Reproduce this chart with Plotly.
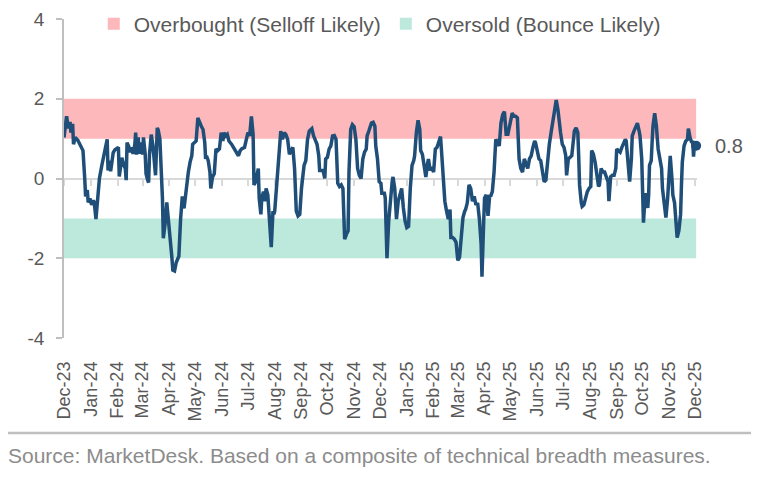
import pandas as pd
import plotly.graph_objects as go

# ---------------- data ----------------
START = "2023-12-01"

# days elapsed since START for each observation
DAY = [
    0, 3, 5, 7, 8, 10, 11, 13, 16, 19, 22, 24, 25, 27, 28, 30, 32, 34, 35, 37,
    39, 41, 44, 46, 48, 50, 51, 53, 54, 57, 59, 61, 63, 64, 66, 67, 69, 71, 72, 73,
    75, 76, 78, 80, 82, 83, 84, 86, 87, 89, 91, 92, 94, 95, 97, 98, 99, 101, 103, 105,
    106, 108, 109, 111, 112, 113, 114, 115, 117, 119, 121, 123, 125, 126, 128, 130, 133, 135, 137, 139,
    141, 143,
    144, 146, 148, 149, 151, 153, 155, 157, 159, 161, 163, 164, 165, 167, 169, 170, 172, 174, 176, 178,
    180, 182, 184, 185, 187, 189, 191, 194, 196, 199, 202, 204, 206, 209, 211, 213, 215, 217, 219, 220,
    222, 225, 226, 228, 229, 231, 233, 234, 236, 238, 239, 240, 242,
    243, 244, 246, 248, 250, 251, 253, 255, 257, 259, 261, 263, 265, 267, 269, 271, 273, 275, 277, 278,
    280, 282, 284, 287, 289, 291, 293, 295, 296, 299, 300, 302, 303, 305, 307, 309, 311, 313, 315, 317,
    319, 321, 323, 324, 325, 327, 329, 330, 332, 334, 336, 338, 340, 342, 344, 346, 348, 350, 351, 353,
    356, 358,
    360, 361, 363, 365, 367, 368, 371, 372, 374, 376, 378, 380, 381, 383, 385, 387, 389, 391, 393, 395,
    397, 399, 401, 403, 405, 406, 408, 410, 412, 413, 415, 417, 419, 421, 422, 424, 426, 428, 430, 432,
    434, 436, 437, 439, 441, 443, 445, 447, 448, 450, 452, 454, 456, 458, 460, 462, 464, 465, 467, 469,
    471, 473, 475, 477, 479, 481, 483, 484,
    486, 487, 489, 491, 493, 494, 496, 498, 500, 502, 504, 506, 508, 510, 512, 514, 516, 518, 519, 521,
    523, 525, 527, 529, 531, 533, 535, 537, 539, 541, 543, 545, 546, 548, 550, 552, 554, 556, 558, 560,
    562, 564, 566, 568, 570, 572, 574, 575, 577, 579, 581, 582, 584, 586, 588, 589, 591, 593, 595, 596,
    597, 599, 600,
    602, 604, 606, 608, 610, 611, 613, 615, 617, 619, 620, 621, 622, 624, 626, 628, 630, 631, 633, 635,
    637, 639, 640, 642, 644, 646, 648, 650, 651, 653, 654, 655, 657, 658, 660, 662, 664, 666, 667, 669,
    670, 671, 673, 675, 676, 677, 678, 680, 681, 682, 684, 686, 688, 690, 692, 693, 695, 697, 699, 701,
    702, 704, 705, 707, 708, 710, 712, 714, 715, 716, 718, 720, 722, 723, 725, 727, 728, 729, 730, 732,
]

# composite technical breadth score
SCORE = [
    1.03, 1.56, 1.26, 1.42, 1.15, 1.37, 0.86, 1.03, 0.96, 0.82, 0.70, 0.0, -0.45, -0.29, -0.6, -0.5, -0.66, -0.55, -0.6, -1.02,
    -0.37, 0.0, 0.35, 0.55, 0.7, 0.98, 0.2, 0.45, 0.18, 0.65, 0.72, 0.76, 0.78, 0.05, 0.45, 0.52, 0.35, 0.25, -0.04, 0.9,
    0.8, 0.66, 0.78, 0.62, 0.85, 1.15, 0.6, 1.03, 0.62, 0.9, 0.6, 1.03, 0.62, 0.12, -0.05, -0.1, 0.6, 1.1, 0.82, 0.2,
    0.08, 1.27, 1.22, 1.0, 0.6, 0.1, -0.5, -1.5, -1.15, -0.6, -1.0, -1.6, -2.0, -2.3, -2.32, -2.1, -1.95, -1.02, -0.45, -0.75,
    -0.3, 0.0,
    0.16, 0.41, 0.57, 0.86, 0.9, 0.94, 1.52, 1.39, 1.31, 1.23, 0.9, 0.49, 0.57, 0.45, 0.16, -0.25, 0.04, 0.12, 0.74, 0.7,
    0.74, 1.15, 0.94, 1.15, 1.07, 1.11, 0.94, 0.86, 0.78, 0.66, 0.57, 0.7, 0.75, 0.78, 0.98, 1.15, 1.07, 1.56, 1.1, -0.16,
    -0.08, 0.25, -0.49, -0.9, -0.49, -0.33, -0.57, -0.25, -0.41, -1.07, -1.39, -1.72, -0.82,
    -0.9, -0.82, -0.25, 0.57, 0.9, 1.19, 0.98, 1.15, 1.1, 0.98, 0.61, 0.7, 0.78, 0.25, -0.82, -0.94, -0.9, -0.25, 0.16, 0.33,
    0.45, 0.98, 1.19, 1.25, 1.07, 0.94, 0.86, 0.57, 0.2, 0.2, 0.2, 0.0, 0.49, 0.53, 0.74, 0.82, 1.07, 1.08, 0.98, -0.12,
    -0.2, -0.16, -0.25, -0.9, -1.52, -1.4, -1.31, 0.16, 1.23, 1.35, 1.3, 0.98, 0.25, 0.08, 0.0, 0.49, 0.66, 0.74, 1.07, 1.19,
    1.39, 1.41,
    1.31, 0.82, 0.49, -0.08, -0.12, -0.37, -0.37, -0.49, -2.0, -1.07, -0.49, -0.08, 0.04, -0.25, -1.02, -0.57, -0.41, -0.25, -0.74, -1.07,
    -1.23, -1.2, -0.25, 0.33, 0.45, 0.57, 1.15, 1.46, 1.23, 0.7, 0.61, 0.37, 0.04, 0.37, 0.49, 0.2, 0.29, 0.16, 0.74, 0.78,
    0.9, 1.05, 0.74, 0.0, -0.57, -0.82, -1.02, -0.78, -1.48, -1.48, -1.52, -1.6, -2.05, -1.98, -1.48, -0.98, -0.82, -0.78, -0.61, -0.16,
    -0.25, -0.57, -0.45, -0.66, -0.61, -1.02, -1.64, -2.46,
    -1.07, -0.49, -0.41, -0.94, -0.41, -0.45, -0.33, 0.16, 0.98, 0.9, 0.82, 1.39, 1.6, 1.68, 1.11, 1.11, 1.31, 1.56, 1.64, 1.56,
    1.56, 1.52, 0.49, 0.25, 0.16, 0.49, 0.33, 0.25, 0.49, 0.57, 0.78, 0.94, 0.9, 0.7, 0.49, 0.45, 0.16, -0.08, -0.04, 0.45,
    0.86, 1.15, 1.43, 1.72, 1.97, 1.72, 1.23, 1.15, 0.86, 0.78, 0.57, 0.08, 0.49, 0.53, 0.57, 0.78, 1.19, 1.27, 1.15, 0.57,
    -0.16, -0.61, -0.7,
    -0.66, -0.49, -0.33, -0.25, -0.2, 0.7, 0.61, 0.41, 0.16, -0.2, -0.16, 0.12, 0.25, 0.16, 0.16, 0.04, -0.08, -0.57, 0.04, 0.08,
    0.08, 0.25, 0.74, 0.7, 0.66, 0.78, 0.9, 0.98, 0.94, 0.41, 0.0, -0.08, 0.49, 1.07, 1.19, 1.27, 1.39, 1.19, 1.07, 0.49,
    -0.33, -1.11, -0.41, -0.41, -0.74, -0.41, 0.33, 0.45, 0.9, 1.31, 1.64, 1.31, 0.74, 0.49, 0.25, -0.25, -0.66, -0.98, -0.49, 0.08,
    0.57, 0.0, -0.41, -0.61, -0.9, -1.48, -1.31, -0.9, -0.16, 0.41, 0.82, 0.94, 0.98, 1.25, 1.02, 0.9, 0.95, 0.55, 0.86, 0.82,
]

OVERBOUGHT_BAND = [1, 2]      # lower, upper
OVERSOLD_BAND = [-2, -1]      # lower, upper
BAND_NAMES = ["Overbought (Selloff Likely)", "Oversold (Bounce Likely)"]
Y_TICKS = [-4, -2, 0, 2, 4]
Y_RANGE = [-4, 4]
X_END_PAD_DAYS = 1
SOURCE = "Source: MarketDesk. Based on a composite of technical breadth measures."

# ---------------- styling ----------------
LINE_COLOR = "#1F4E79"
PINK = "#FCB8BB"
GREEN = "#BDE8DC"
TEXT = "#595959"
AXIS = "#BFBFBF"
ZERO = "#D9D9D9"
FONT = "Liberation Sans, Arial, sans-serif"

dates = pd.Timestamp(START) + pd.to_timedelta(DAY, unit="D")
x_first, x_last = dates[0], dates[-1]
band_mid = x_first + (x_last - x_first) / 2
band_width_ms = (x_last - x_first).total_seconds() * 1000
x_range = [x_first, x_last + pd.Timedelta(days=X_END_PAD_DAYS)]

fig = go.Figure()

for band, name, color in [(OVERBOUGHT_BAND, BAND_NAMES[0], PINK),
                          (OVERSOLD_BAND, BAND_NAMES[1], GREEN)]:
    fig.add_trace(go.Bar(
        x=[band_mid], y=[band[1] - band[0]], base=[band[0]],
        width=[band_width_ms], name=name,
        marker=dict(color=color, line=dict(width=0)),
        hoverinfo="skip",
    ))

fig.add_trace(go.Scatter(
    x=dates, y=SCORE, mode="lines",
    line=dict(color=LINE_COLOR, width=3.5),
    showlegend=False, name="Breadth",
))

fig.add_trace(go.Scatter(
    x=[x_last], y=[SCORE[-1]], mode="markers",
    marker=dict(color=LINE_COLOR, size=10),
    showlegend=False, cliponaxis=False, hoverinfo="skip",
))

# invisible helper trace so the zero-line axis is drawn
fig.add_trace(go.Scatter(
    x=[x_first], y=[0], xaxis="x2", mode="markers",
    marker=dict(opacity=0), showlegend=False, hoverinfo="skip",
))

fig.add_annotation(
    x=x_last, y=SCORE[-1], text=f"{SCORE[-1]:.1f}",
    showarrow=False, xanchor="left", yanchor="middle", xshift=17,
    font=dict(size=20, color=TEXT, family=FONT),
)

fig.add_annotation(
    xref="paper", yref="paper", x=-0.092, y=-0.367,
    text=SOURCE, showarrow=False, xanchor="left", yanchor="middle",
    font=dict(size=21, color="#8C8C8C", family=FONT),
)

fig.add_shape(
    type="line", xref="paper", yref="paper",
    x0=-0.093, x1=1.087, y0=-0.298, y1=-0.298,
    line=dict(color=AXIS, width=2.5),
)

# the page body adds an 8px offset, so the figure is sized to fit the window
fig.update_layout(
    width=751, height=469,
    margin=dict(l=56, r=62, t=11, b=139, autoexpand=False),
    paper_bgcolor="white", plot_bgcolor="white",
    barmode="overlay",
    font=dict(family=FONT, color=TEXT),
    showlegend=True,
    legend=dict(
        orientation="h", x=0.047, y=0.984, xanchor="left", yanchor="middle",
        font=dict(size=21, color=TEXT, family=FONT),
        bgcolor="rgba(0,0,0,0)", traceorder="normal",
        itemclick=False, itemdoubleclick=False,
    ),
    xaxis=dict(
        type="date", range=x_range, automargin=False,
        tickformat="%b-%y", dtick="M1", tick0=START,
        tickangle=-90, showgrid=False, zeroline=False, showline=False,
        ticks="", ticklabelstandoff=19,
        tickfont=dict(size=18, color=TEXT, family=FONT),
    ),
    xaxis2=dict(
        type="date", overlaying="x", matches="x", anchor="free", position=0.5,
        showline=True, linecolor=ZERO, linewidth=2, automargin=False,
        ticks="outside", ticklen=6, tickwidth=1.5, tickcolor=ZERO,
        dtick="M1", tick0=START, showticklabels=False,
        showgrid=False, zeroline=False, layer="below traces",
    ),
    yaxis=dict(
        range=Y_RANGE, tickvals=Y_TICKS, ticktext=[str(v) for v in Y_TICKS],
        showgrid=False, zeroline=False, automargin=False,
        showline=True, linecolor=AXIS, linewidth=1.5,
        ticks="outside", ticklen=6, tickwidth=1.5, tickcolor=AXIS,
        ticklabelstandoff=8, ticklabeloverflow="allow",
        tickfont=dict(size=19, color=TEXT, family=FONT),
    ),
)

fig.write_html("out.html")
